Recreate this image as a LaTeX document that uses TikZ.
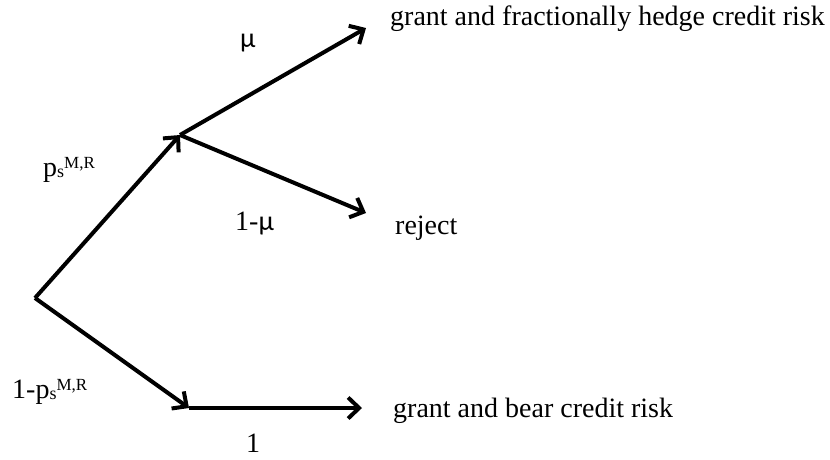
\documentclass[tikz,border=0pt]{standalone}
\usepackage{fontspec}
\setmainfont{Liberation Serif}
\newfontfamily\mufont{Carlito}
\usetikzlibrary{arrows.meta}
\newcommand\mymu{{\mufont µ}}
\newcommand\mysup[1]{\raisebox{8pt}{\fontsize{17}{17}\selectfont #1}}
\newcommand\mysub[1]{\raisebox{-1pt}{\fontsize{18}{18}\selectfont #1}}
\newcommand\psMR{p\mysub{s}\mysup{M,R}}
\begin{document}
\begin{tikzpicture}[x=1pt,y=-1pt,
  branch/.style={line width=4pt,-{Straight Barb[length=11pt,width=21pt,line width=4pt]}},
  lbl/.style={inner sep=0pt,anchor=base west,font=\fontsize{28}{30}\selectfont}]
\useasboundingbox (0,0) rectangle (830,459);
\coordinate (O) at (35,298);
\coordinate (A) at (180,135);
\coordinate (B) at (366,28);
\coordinate (C) at (366,213);
\coordinate (D) at (189,408);
\coordinate (E) at (362,408);
\draw[branch] (O) -- (A);
\draw[branch] (A) -- (B);
\draw[branch] (A) -- (C);
\draw[branch] (O) -- (D);
\draw[branch] (D) -- (E);
\node[lbl] (t1) at (390,25) {grant and fractionally hedge credit risk};
\node[lbl] (t2) at (395,234) {reject};
\node[lbl] (t3) at (393,417) {grant and bear credit risk};
\node[lbl] (l1) at (240,47) {\mymu};
\node[lbl] (l2) at (43,176) {\psMR};
\node[lbl] (l3) at (235,230) {1-\mymu};
\node[lbl] (l4) at (12,398) {1-\psMR};
\node[lbl] (l5) at (246,452) {1};
\end{tikzpicture}
\end{document}
